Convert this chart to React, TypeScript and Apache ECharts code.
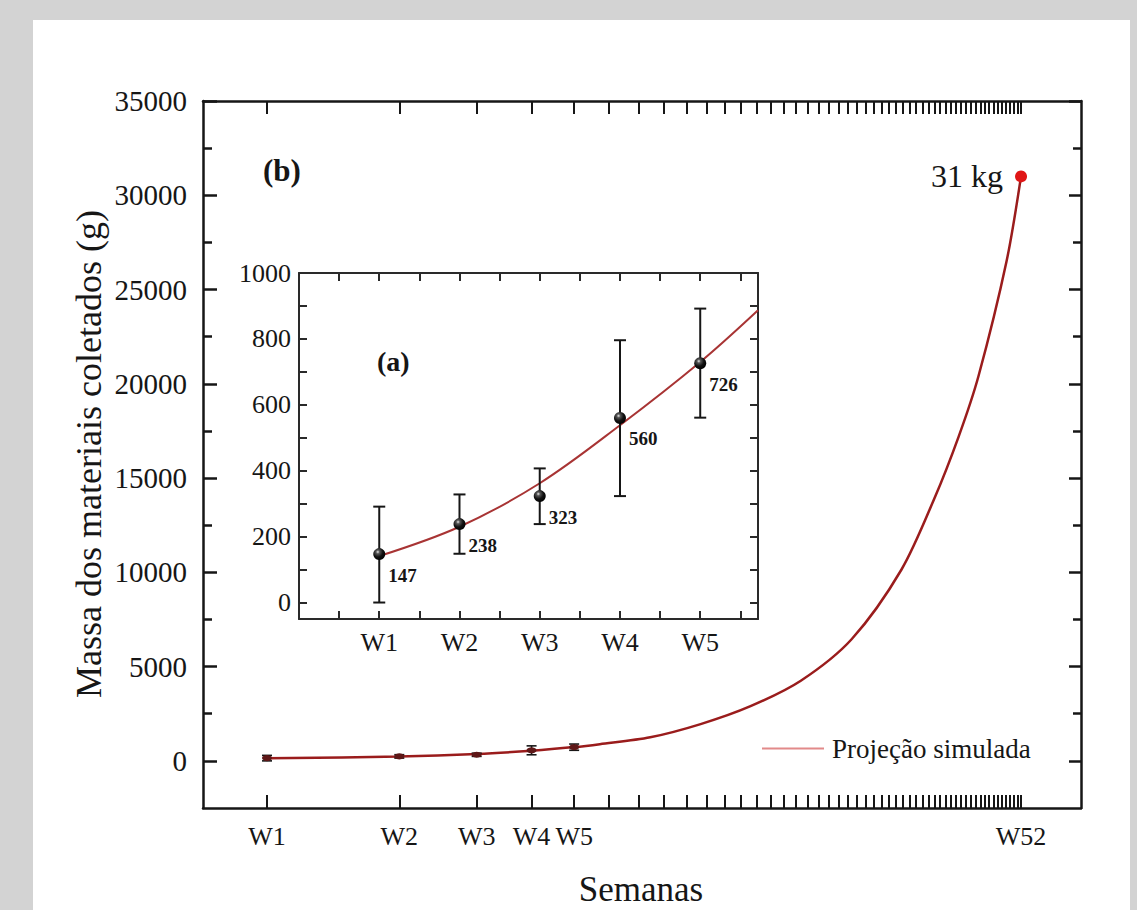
import React, { useEffect, useRef } from 'react';
import * as echarts from 'echarts';

const FONT = "'Liberation Serif', 'Times New Roman', Times, serif";
const INK = '#161616';
const CURVE = '#9a1c1c';

// axis ticks / labels
const weekLabels = [1, 2, 3, 4, 5, 52];
const weekTicks = [1, 2, 3, 4, 5, 6, 7, 8, 9, 10, 11, 12, 13, 14, 15, 16, 17, 18, 19, 20, 21, 22, 23, 24, 25, 26, 27, 28, 29, 30, 31, 32, 33, 34, 35, 36, 37, 38, 39, 40, 41, 42, 43, 44, 45, 46, 47, 48, 49, 50, 51, 52];
const mainYLabels = [0, 5000, 10000, 15000, 20000, 25000, 30000, 35000];
const mainYMinor = [2500, 7500, 12500, 17500, 22500, 27500, 32500];
const insetXLabels = [1, 2, 3, 4, 5];
const insetXTicks = [0.5, 1, 1.5, 2, 2.5, 3, 3.5, 4, 4.5, 5, 5.5];
const insetYLabels = [0, 200, 400, 600, 800, 1000];
const insetYTicks = [0, 100, 200, 300, 400, 500, 600, 700, 800, 900, 1000];

// measured samples (g)
const sampleWeeks = [1, 2, 3, 4, 5];
const sampleMass = [147, 238, 323, 560, 726];
const errLow = [0, 148, 238, 323, 561];
const errHigh = [291, 328, 407, 796, 892];

// simulated projection curve
const curveWeeks = [1, 2, 3, 4, 5, 5.72, 7.45, 9.7, 12.6, 16.4, 21.4, 27.8, 33, 37.5, 41.6, 48.2, 52];
const curveMass = [141, 230, 362, 538, 730, 887, 1250, 1950, 2900, 4250, 6450, 10150, 13900, 17200, 20400, 26500, 31000];

const finalWeek = 52;
const finalMass = 31000;
const finalLabel = '31 kg';
const INSET_XMAX = 5.72;

function errorBarRenderer(cap: number, width: number) {
  return (params: any, api: any) => {
    const x = api.value(0);
    const lo = api.coord([x, api.value(1)]);
    const hi = api.coord([x, api.value(2)]);
    const st = { stroke: INK, lineWidth: width };
    return {
      type: 'group',
      children: [
        { type: 'line', shape: { x1: lo[0], y1: lo[1], x2: hi[0], y2: hi[1] }, style: st },
        { type: 'line', shape: { x1: lo[0] - cap, y1: lo[1], x2: lo[0] + cap, y2: lo[1] }, style: st },
        { type: 'line', shape: { x1: hi[0] - cap, y1: hi[1], x2: hi[0] + cap, y2: hi[1] }, style: st },
      ],
    };
  };
}

export default function App() {
  const ref = useRef<HTMLDivElement>(null);
  useEffect(() => {
    if (!ref.current) return;
    const chart = echarts.init(ref.current, undefined, { renderer: 'svg' });

    const curveData = curveWeeks.map((w, i) => [w, curveMass[i]]);
    const insetCurve = curveData.filter((p) => p[0] <= INSET_XMAX);
    const samples = sampleWeeks.map((w, i) => [w, sampleMass[i]]);
    const errs = sampleWeeks.map((w, i) => [w, errLow[i], errHigh[i]]);

    const lbl = (size: number, extra: any = {}) => ({ fontFamily: FONT, fontSize: size, color: INK, ...extra });
    const plain = (v: number) => String(v);
    const mainLine = { show: true, onZero: false, lineStyle: { color: INK, width: 2.5 } };
    const insetLine = { show: true, onZero: false, lineStyle: { color: '#2a2a2a', width: 2 } };

    const mainX = (pos: string, labels: boolean) => ({
      gridIndex: 0,
      type: 'log',
      logBase: 10,
      min: 0.715,
      max: 71.2,
      position: pos,
      axisLine: mainLine,
      axisTick: { show: true, inside: true, length: 13, customValues: weekTicks, lineStyle: { color: INK, width: 2 } },
      axisLabel: labels
        ? { show: true, customValues: weekLabels, margin: 15, formatter: (v: number) => 'W' + Math.round(v), ...lbl(26) }
        : { show: false },
      minorTick: { show: false },
      splitLine: { show: false },
    });
    const mainY = (pos: string, ticks: number[], len: number, labels: boolean, line: boolean) => ({
      gridIndex: 0,
      type: 'value',
      min: -2500,
      max: 35000,
      position: pos,
      axisLine: line ? mainLine : { show: false },
      axisTick: { show: true, inside: true, length: len, customValues: ticks, lineStyle: { color: INK, width: 2.5 } },
      axisLabel: labels ? { show: true, customValues: mainYLabels, margin: 16, formatter: plain, ...lbl(29) } : { show: false },
      splitLine: { show: false },
    });
    const insetX = (pos: string, labels: boolean) => ({
      gridIndex: 1,
      type: 'value',
      min: 0,
      max: INSET_XMAX,
      position: pos,
      axisLine: insetLine,
      axisTick: { show: true, inside: true, length: 8, customValues: insetXTicks, lineStyle: { color: '#2a2a2a', width: 2 } },
      axisLabel: labels
        ? { show: true, customValues: insetXLabels, margin: 10, formatter: (v: number) => 'W' + Math.round(v), ...lbl(26) }
        : { show: false },
      splitLine: { show: false },
    });
    const insetY = (pos: string, labels: boolean) => ({
      gridIndex: 1,
      type: 'value',
      min: -50,
      max: 1000,
      position: pos,
      axisLine: insetLine,
      axisTick: { show: true, inside: true, length: 8, customValues: insetYTicks, lineStyle: { color: '#2a2a2a', width: 2 } },
      axisLabel: labels ? { show: true, customValues: insetYLabels, margin: 8, formatter: plain, ...lbl(26) } : { show: false },
      splitLine: { show: false },
    });

    const ball = {
      type: 'radial',
      x: 0.38,
      y: 0.32,
      r: 0.7,
      colorStops: [
        { offset: 0, color: '#e8e8e8' },
        { offset: 0.22, color: '#555555' },
        { offset: 0.6, color: '#111111' },
        { offset: 1, color: '#000000' },
      ],
    };

    chart.setOption({
      animation: false,
      backgroundColor: '#d3d3d3',
      grid: [
        { left: 203, top: 101, width: 878, height: 707 },
        { left: 299, top: 273, width: 459, height: 346 },
      ],
      xAxis: [mainX('bottom', true), mainX('top', false), insetX('bottom', true), insetX('top', false)],
      yAxis: [
        mainY('left', mainYLabels, 14, true, true),
        mainY('left', mainYMinor, 9, false, false),
        mainY('right', mainYLabels, 12, false, true),
        mainY('right', mainYMinor, 8, false, false),
        insetY('left', true),
        insetY('right', false),
      ],
      legend: {
        left: 757,
        top: 730,
        data: [{ name: 'Projeção simulada', icon: 'rect', itemStyle: { color: '#e28a8a' } }],
        itemWidth: 62,
        itemHeight: 2,
        textStyle: { fontFamily: FONT, fontSize: 27, color: INK, padding: [0, 0, 0, 3] },
      },
      graphic: {
        elements: [
          { type: 'rect', z: -100, silent: true, shape: { x: 33, y: 20, width: 1097, height: 890 }, style: { fill: '#ffffff' } },
          { type: 'text', z: 50, style: { x: 263, y: 170, text: '(b)', font: `bold 31px ${FONT}`, fill: INK, verticalAlign: 'middle' } },
          { type: 'text', z: 50, style: { x: 377, y: 361, text: '(a)', font: `bold 28px ${FONT}`, fill: INK, verticalAlign: 'middle' } },
          {
            type: 'text', z: 50, x: 89, y: 454, rotation: Math.PI / 2,
            style: { x: 0, y: 0, text: 'Massa dos materiais coletados (g)', font: `36px ${FONT}`, fill: INK, align: 'center', verticalAlign: 'middle' },
          },
          { type: 'text', z: 50, style: { x: 641, y: 889, text: 'Semanas', font: `35px ${FONT}`, fill: INK, align: 'center', verticalAlign: 'middle' } },
        ],
      },
      series: [
        {
          name: 'Projeção simulada',
          type: 'line',
          xAxisIndex: 0,
          yAxisIndex: 0,
          data: curveData,
          smooth: 0.3,
          showSymbol: false,
          lineStyle: { color: CURVE, width: 2.5 },
          itemStyle: { color: CURVE },
          z: 3,
        },
        {
          name: 'err-main',
          type: 'custom',
          xAxisIndex: 0,
          yAxisIndex: 0,
          data: errs,
          encode: { x: 0, y: [1, 2] },
          renderItem: errorBarRenderer(5, 1.6),
          z: 4,
        },
        {
          name: 'pts-main',
          type: 'scatter',
          xAxisIndex: 0,
          yAxisIndex: 0,
          data: samples,
          symbol: 'circle',
          symbolSize: [10, 6],
          itemStyle: { color: '#5e1717', opacity: 1 },
          z: 5,
        },
        {
          name: 'final',
          type: 'scatter',
          xAxisIndex: 0,
          yAxisIndex: 0,
          data: [[finalWeek, finalMass]],
          symbolSize: 12,
          itemStyle: { color: '#e01616', opacity: 1 },
          label: { show: true, position: 'left', distance: 12, formatter: finalLabel, opacity: 1, ...lbl(32) },
          z: 6,
        },
        {
          name: 'inset-curve',
          type: 'line',
          xAxisIndex: 2,
          yAxisIndex: 4,
          data: insetCurve,
          smooth: 0.35,
          showSymbol: false,
          lineStyle: { color: '#a83434', width: 2 },
          z: 3,
        },
        {
          name: 'err-inset',
          type: 'custom',
          xAxisIndex: 2,
          yAxisIndex: 4,
          data: errs,
          encode: { x: 0, y: [1, 2] },
          renderItem: errorBarRenderer(6, 2),
          z: 4,
        },
        {
          name: 'pts-inset',
          type: 'scatter',
          xAxisIndex: 2,
          yAxisIndex: 4,
          data: samples,
          symbolSize: 12,
          itemStyle: { color: ball, opacity: 1 },
          label: {
            show: true,
            position: 'right',
            distance: 3,
            offset: [0, 21],
            opacity: 1,
            formatter: (p: any) => String(p.value[1]),
            ...lbl(19, { fontWeight: 'bold' }),
          },
          z: 5,
        },
      ],
    } as any);

    return () => chart.dispose();
  }, []);

  return <div ref={ref} style={{ position: 'absolute', left: 0, top: 0, width: 1137, height: 910 }} />;
}
